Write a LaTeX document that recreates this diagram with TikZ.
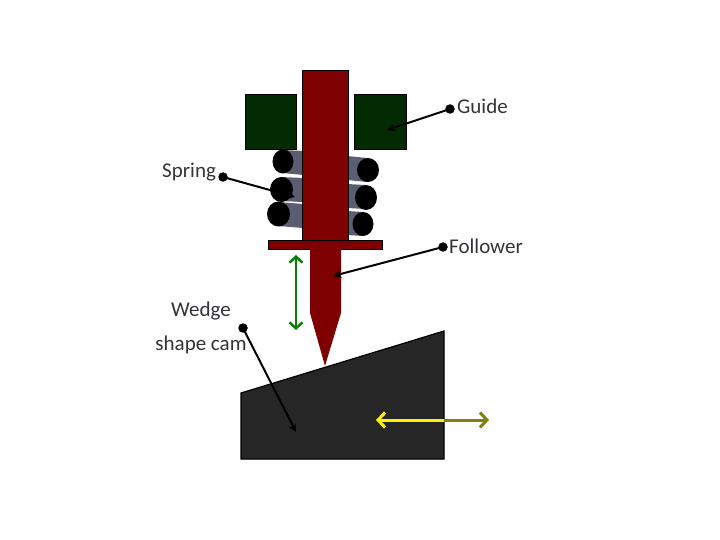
\documentclass[tikz,border=0pt]{standalone}
\usepackage{fontspec}
\setmainfont{Carlito}
\usetikzlibrary{arrows.meta}
\definecolor{rodred}{HTML}{7F0000}
\definecolor{guidegreen}{HTML}{032B03}
\definecolor{coilgray}{HTML}{5C5C72}
\definecolor{camgray}{HTML}{262626}
\definecolor{labelgray}{HTML}{333338}
\definecolor{olivearrow}{HTML}{808010}
\tikzset{
  labeltext/.style={inner sep=0pt,text=labelgray,font=\fontsize{21}{24}\selectfont},
  leaderdot/.style={circle,fill=black,inner sep=0pt,minimum size=9.5pt},
  leader/.style={-{Stealth[length=8pt,width=8pt]},line width=2pt,shorten <=-2pt},
  motion/.style={{Straight Barb[length=6pt,width=13pt]}-{Straight Barb[length=6pt,width=13pt]},line width=2.4pt},
  camarrow/.style={line width=3pt},
  coilend/.style={fill=black}
}
\begin{document}
\begin{tikzpicture}[x=1pt,y=-1pt]
\useasboundingbox (0,0) rectangle (720,540);
\fill[guidegreen,draw=black,line width=0.4pt] (245,94) rectangle (296,149);
\fill[guidegreen,draw=black,line width=0.4pt] (354,94) rectangle (406,149);
\fill[coilgray] (283,150) -- (303,151) -- (303,175) -- (283,173) -- cycle;
\fill[coilgray] (281,177) -- (303,178) -- (303,202) -- (281,201) -- cycle;
\fill[coilgray] (278,202) -- (303,204) -- (303,228) -- (278,226) -- cycle;
\fill[coilgray] (347,156) -- (367,158) -- (367,182) -- (347,180) -- cycle;
\fill[coilgray] (347,184) -- (365,185) -- (365,209) -- (347,208) -- cycle;
\fill[coilgray] (347,211) -- (363,212) -- (363,236) -- (347,235) -- cycle;
\fill[coilend] (283,161.5) ellipse (10.5 and 12);
\fill[coilend] (281.5,189.5) ellipse (11.5 and 12.5);
\fill[coilend] (278.5,214) ellipse (11.5 and 12.5);
\fill[coilend] (368,170) ellipse (11 and 12);
\fill[coilend] (366,197.5) ellipse (11 and 12.5);
\fill[coilend] (363,224) ellipse (10.5 and 12);
\fill[rodred,draw=black,line width=0.6pt] (302,70) rectangle (348,240);
\fill[rodred,draw=black,line width=0.4pt] (268,240) rectangle (382,249);
\fill[rodred] (310,249) -- (341,249) -- (341,313) -- (325,366) -- (310,313) -- cycle;
\fill[camgray,draw=black,line width=1.2pt] (241,393) -- (444,331) -- (444,459) -- (241,459) -- cycle;
\node[labeltext,anchor=west] (guidetext) at (457,106) {Guide};
\node[labeltext,anchor=west] (springtext) at (162,172) {Spring};
\node[labeltext,anchor=west] (followertext) at (449,246) {Follower};
\node[labeltext,anchor=center] (wedgetext) at (201,311) {Wedge};
\node[labeltext,anchor=center] (camtext) at (201,345) {shape cam};
\node[leaderdot] (guidedot) at (450,109) {};
\node[leaderdot] (springdot) at (223,177) {};
\node[leaderdot] (followerdot) at (443,247) {};
\node[leaderdot] (wedgedot) at (243,328) {};
\coordinate (guideend) at (387,130);
\coordinate (springend) at (295,197);
\coordinate (followerend) at (333,276);
\coordinate (wedgeend) at (296,432);
\draw[leader] (guidedot) -- (guideend);
\draw[leader] (springdot) -- (springend);
\draw[leader] (followerdot) -- (followerend);
\draw[leader] (wedgedot) -- (wedgeend);
\coordinate (risetop) at (296,255);
\coordinate (risebottom) at (296,330);
\draw[motion,green!50!black] (risetop) -- (risebottom);
\coordinate (camleft) at (376,420);
\coordinate (camedge) at (444,420);
\coordinate (camright) at (489,420);
\draw[{Straight Barb[length=7pt,width=15pt]}-,camarrow,yellow] (camleft) -- (camedge);
\draw[-{Straight Barb[length=7pt,width=15pt]},camarrow,olivearrow] (camedge) -- (camright);
\end{tikzpicture}
\end{document}
